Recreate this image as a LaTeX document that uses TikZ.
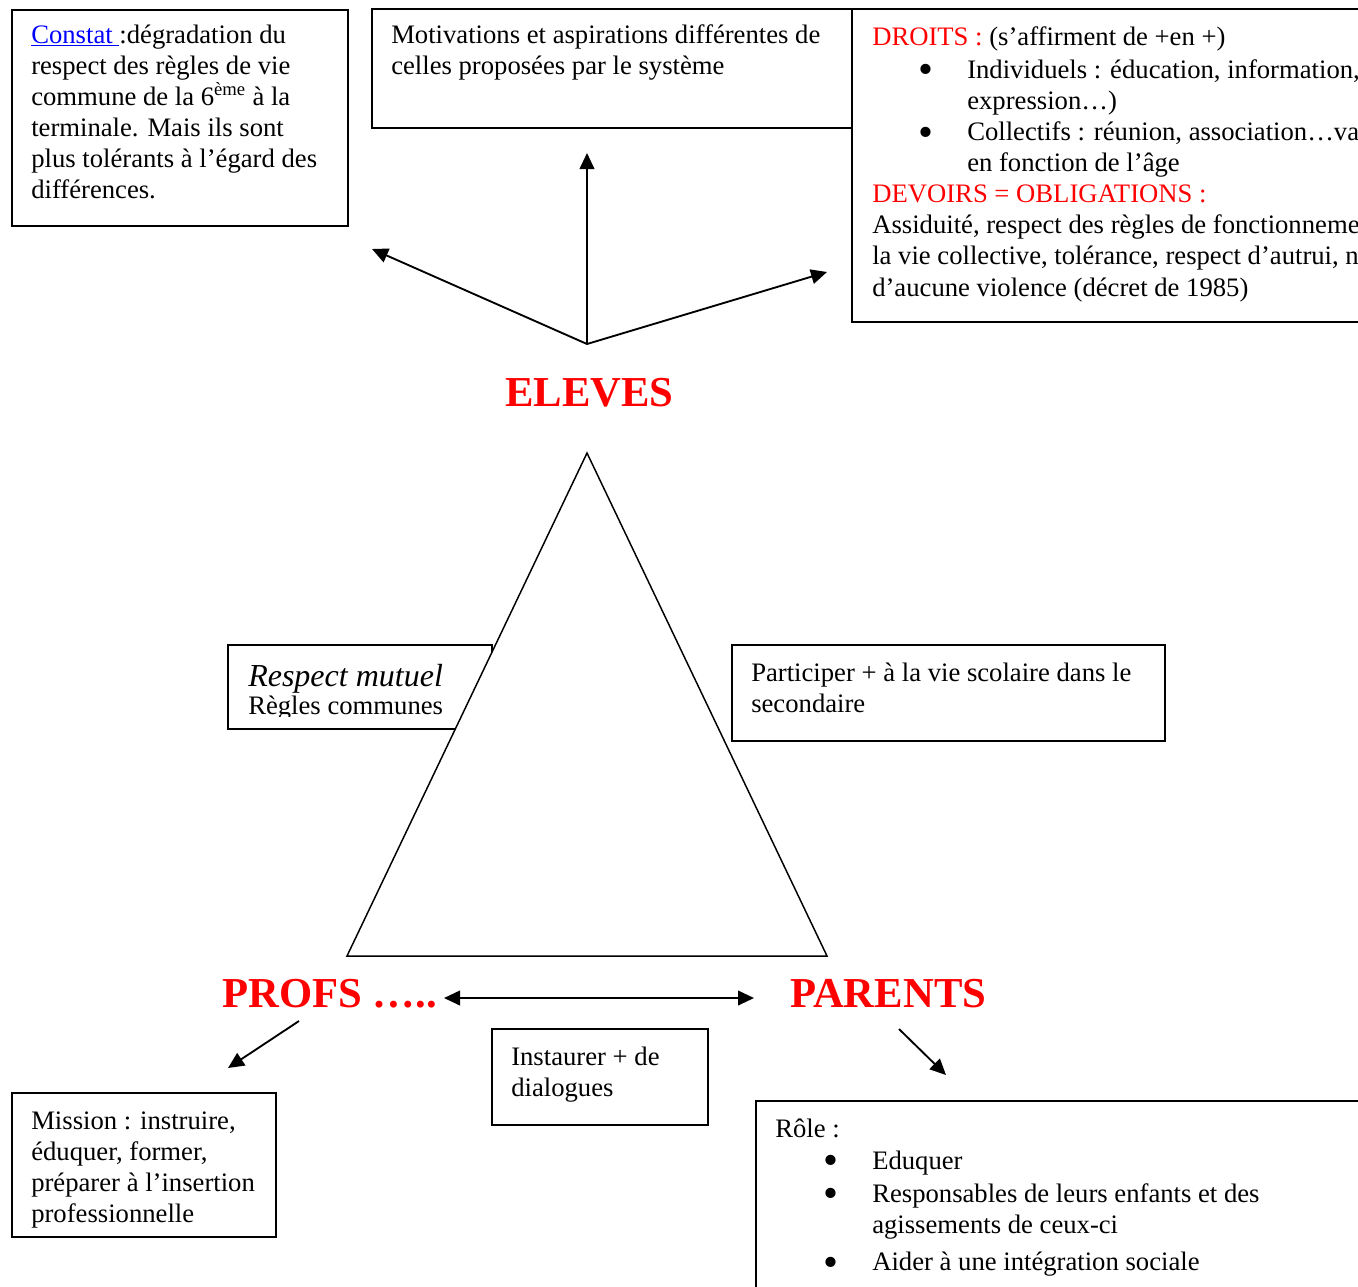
\documentclass[tikz,border=0pt]{standalone}
\usepackage{fontspec}
\setmainfont{Liberation Serif}
\usepackage{graphicx}
\usepackage{tikz}
\usetikzlibrary{arrows.meta}

\newdimen\pxu
\pxu=0.75pt
\newcommand{\puce}{\makebox[46\pxu][l]{\smash{\raisebox{-0.2em}{\scalebox{1.6}{\textbullet}}}}}

\begin{document}
\begin{tikzpicture}[x=0.75pt, y=-0.75pt,
	frame/.style={draw, line width=1.4pt, fill=white, inner sep=0pt, anchor=north west},
	txt/.style={inner sep=0pt, anchor=north west, align=left, font=\fontsize{20}{23.3}\selectfont},
	title/.style={inner sep=0pt, anchor=base west, text=red, font=\fontsize{32}{38}\selectfont\bfseries},
	arr/.style={line width=1.4pt, -{Triangle[length=12pt, width=11pt]}},
	twoarr/.style={line width=1.4pt, {Triangle[length=12pt, width=11pt]}-{Triangle[length=12pt, width=11pt]}}]
	\useasboundingbox (0,0) rectangle (1358,1286);
	\clip (0,0) rectangle (1358,1286);

	\node[frame, minimum width=336*\pxu, minimum height=216*\pxu] (constatframe) at (11,9) {};
	\node[txt] (constat) at (31,21.5) {\strut\textcolor{blue}{\underline{Constat }}:dégradation du\\respect des règles de vie\\commune de la 6\textsuperscript{ème} à la\\terminale. Mais ils sont\\plus tolérants à l’égard des\\différences.};

	\node[frame, minimum width=480*\pxu, minimum height=119*\pxu] (motivframe) at (371,8) {};
	\node[txt] (motiv) at (391,21.5) {\strut Motivations et aspirations différentes de\\celles proposées par le système};

	\node[frame, minimum width=560*\pxu, minimum height=313*\pxu] (droitsframe) at (851,8) {};
	\node[txt] (droits) at (872,23.5) {\strut\textcolor{red}{DROITS :} (s’affirment de +en +)\\[1.5pt]
		\hspace*{46\pxu}\puce\hspace*{3\pxu}Individuels : éducation, information,\\
		\hspace*{95\pxu}expression…)\\
		\hspace*{46\pxu}\puce\hspace*{3\pxu}Collectifs : réunion, association…va\\
		\hspace*{95\pxu}en fonction de l’âge\\
		\textcolor{red}{DEVOIRS = OBLIGATIONS :}\\
		Assiduité, respect des règles de fonctionneme\\
		la vie collective, tolérance, respect d’autrui, n\\
		d’aucune violence (décret de 1985)};

	\coordinate (hub) at (587,344);
	\coordinate (upend) at (587,153);
	\coordinate (leftend) at (372,249);
	\coordinate (rightend) at (827,272);
	\draw[arr] (hub) -- (upend);
	\draw[arr] (hub) -- (leftend);
	\draw[arr] (hub) -- (rightend);

	\node[title, anchor=base] (eleves) at (589.5,406) {ELEVES};

	\node[frame, minimum width=264*\pxu, minimum height=84*\pxu] (respectframe) at (227,644) {};
	\begin{scope}
		\clip (227,644) rectangle (491,716);
		\node[txt, font=\fontsize{20}{20.6}\selectfont] (respect) at (248,664.5) {{\fontsize{24}{20.6}\selectfont\itshape Respect mutuel}\\Règles communes};
	\end{scope}

	\filldraw[fill=white, line width=1.1pt] (587,453) -- (347,956) -- (827,956) -- cycle;

	\node[frame, minimum width=433*\pxu, minimum height=96*\pxu] (participerframe) at (731,644) {};
	\node[txt] (participer) at (751,659.5) {\strut Participer + à la vie scolaire dans le\\secondaire};

	\node[title] (profs) at (222,1007) {PROFS …..};
	\node[title] (parents) at (790,1007) {PARENTS};

	\coordinate (dialleft) at (444,998);
	\coordinate (dialright) at (754,998);
	\draw[twoarr] (dialleft) -- (dialright);

	\coordinate (profsfrom) at (299,1021);
	\coordinate (profsto) at (228,1068);
	\draw[arr] (profsfrom) -- (profsto);
	\coordinate (parentsfrom) at (899,1029);
	\coordinate (parentsto) at (946,1075);
	\draw[arr] (parentsfrom) -- (parentsto);

	\node[frame, minimum width=216*\pxu, minimum height=96*\pxu] (instaurerframe) at (491,1028) {};
	\node[txt] (instaurer) at (511,1043) {\strut Instaurer + de\\dialogues};

	\node[frame, minimum width=264*\pxu, minimum height=144*\pxu] (missionframe) at (11,1092) {};
	\node[txt] (mission) at (31,1107) {\strut Mission : instruire,\\éduquer, former,\\préparer à l’insertion\\professionnelle};

	\node[frame, minimum width=700*\pxu, minimum height=300*\pxu] (roleframe) at (755,1100) {};
	\node[txt] (role) at (775,1115) {\strut Rôle :\\[0.75pt]
		\hspace*{48\pxu}\puce\hspace*{3\pxu}Eduquer\\[1.5pt]
		\hspace*{48\pxu}\puce\hspace*{3\pxu}Responsables de leurs enfants et des\\
		\hspace*{97\pxu}agissements de ceux-ci\\[5pt]
		\hspace*{48\pxu}\puce\hspace*{3\pxu}Aider à une intégration sociale};

\end{tikzpicture}
\end{document}
